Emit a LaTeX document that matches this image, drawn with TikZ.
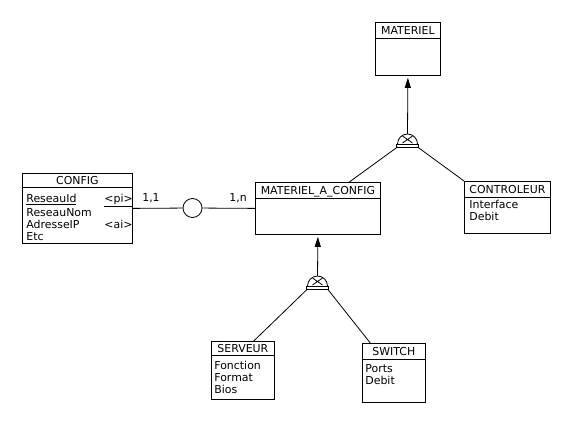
\documentclass[tikz,border=0pt]{standalone}
\usepackage{fontspec}
\setmainfont{DejaVu Sans}
\usetikzlibrary{arrows.meta,positioning,calc}

\begin{document}
\begin{tikzpicture}[
  x=0.75pt, y=-0.75pt,
  line width=0.6pt,
  every node/.style={font=\fontsize{8.2}{9}\selectfont, inner sep=0pt},
  entity/.style={draw, anchor=north west},
  head/.style={draw, anchor=north, text height=6pt, text depth=0pt},
  attrs/.style={anchor=north west, align=left},
  card/.style={text height=6pt, text depth=0pt},
  assoc/.style={draw, circle, minimum size=14.25pt},
  isa arrow/.style={-{Triangle[length=7.5pt,width=4.5pt]}, shorten >=1.5pt},
  isa/.pic={
    \draw (-10,0) arc[start angle=180, end angle=0, x radius=7.5pt, y radius=7.5pt];
    \draw (-11,0) rectangle (11,3);
    \draw (-5,-8) -- (5,-1) (5,-8) -- (-5,-1);
    \coordinate (-top) at (0,-10);
    \coordinate (-left) at (-10,3);
    \coordinate (-right) at (10,3);
  }
]
\useasboundingbox (0,0) rectangle (578,434);

% entities
\node[entity, minimum width=82.5pt, minimum height=52.5pt] (config) at (22,173) {};
\node[head, minimum width=82.5pt, minimum height=10.5pt] (config-t) at (config.north) {CONFIG};
\node[attrs] (config-a) at (26,193.6) {\strut\makebox[58.5pt][l]{\underline{ReseauId}}\underline{<pi>}\\ReseauNom\\\makebox[58.5pt][l]{AdresseIP}<ai>\\Etc};

\node[entity, minimum width=93.75pt, minimum height=39pt] (mac) at (255,182) {};
\node[head, minimum width=93.75pt, minimum height=12pt] (mac-t) at (mac.north) {MATERIEL\_A\_CONFIG};

\node[entity, minimum width=48.75pt, minimum height=39.75pt] (materiel) at (375,22) {};
\node[head, minimum width=48.75pt, minimum height=12pt] (materiel-t) at (materiel.north) {MATERIEL};

\node[entity, minimum width=64.5pt, minimum height=39pt] (ctrl) at (464,181) {};
\node[head, minimum width=64.5pt, minimum height=12pt] (ctrl-t) at (ctrl.north) {CONTROLEUR};
\node[attrs] (ctrl-a) at (469,199.6) {\strut Interface\\Debit};

\node[entity, minimum width=47.25pt, minimum height=43.5pt] (serveur) at (211,341) {};
\node[head, minimum width=47.25pt, minimum height=10.5pt] (serveur-t) at (serveur.north) {SERVEUR};
\node[attrs] (serveur-a) at (214,360.6) {\strut Fonction\\Format\\Bios};

\node[entity, minimum width=47.25pt, minimum height=44.25pt] (switch) at (362,343) {};
\node[head, minimum width=47.25pt, minimum height=12pt] (switch-t) at (switch.north) {SWITCH};
\node[attrs] (switch-a) at (365,363.6) {\strut Ports\\Debit};

% association
\node[assoc] (assoc) at (192.5,208) {};
\node[card] (card-config) at (151,198) {1,1};
\node[card] (card-mac) at (238,198) {1,n};
\draw (config.east) -- (assoc) -- (mac.west);

% inheritance
\pic (inh1) at (407.5,144) {isa};
\pic (inh2) at (317.5,286) {isa};

\draw[isa arrow] (inh1-top) -- (materiel.south);
\draw (inh1-left) -- ($(mac.north west)!0.75!(mac.north east)$);
\draw (inh1-right) -- (ctrl.north west);

\draw[isa arrow] (inh2-top) -- (mac.south);
\draw (inh2-left) -- ($(serveur.north west)!0.67!(serveur.north east)$);
\draw (inh2-right) -- ($(switch.north west)!0.13!(switch.north east)$);
\end{tikzpicture}
\end{document}
